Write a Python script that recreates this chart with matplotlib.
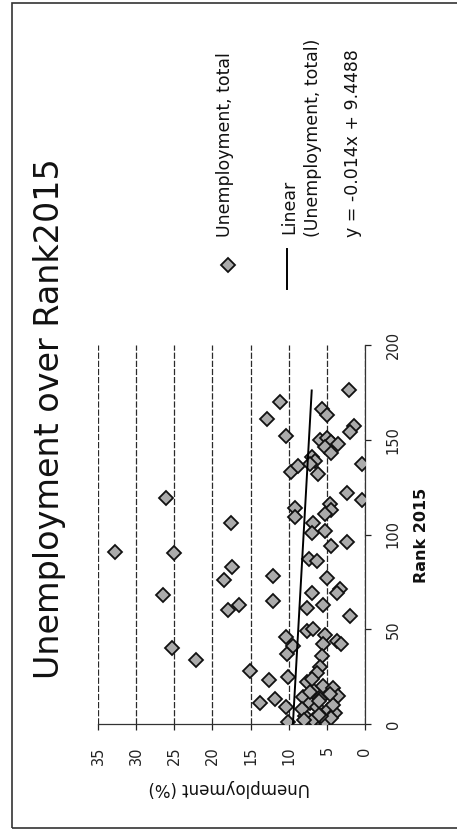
import matplotlib
matplotlib.use("Agg")
import numpy as np
import matplotlib.pyplot as plt
from matplotlib.patches import Rectangle

plt.rcParams['font.family'] = ['DejaVu Sans']

# scanned chart is turned 90 deg: unemployment runs left->right (35..0), rank runs bottom->top
rank = [91, 68, 119, 90, 40, 34, 106, 83, 76, 63, 60, 28, 23, 11, 13, 78, 65,
        161, 170, 152, 133, 136, 114, 109, 46, 37, 25, 9, 1, 41,
        166, 163, 176, 157, 154, 150, 151, 149, 148, 146, 143, 141, 139, 137, 132,
        137, 122, 118, 116, 113, 111, 106, 102, 101, 94, 96, 87, 86, 77, 71, 69,
        69, 61, 63, 57, 49, 50, 47, 44, 42, 42, 36, 30, 27, 22, 18, 20, 19, 14,
        11, 9, 7, 6, 4, 2, 1, 3, 15, 10, 13, 17, 4, 8, 2, 12, 5, 16, 24]
unemployment = [32.8, 26.5, 26.1, 25.0, 25.3, 22.2, 17.6, 17.5, 18.5, 16.5, 17.9, 15.1, 12.6, 13.7, 11.8, 12.0, 12.0,
                12.9, 11.2, 10.3, 9.7, 8.8, 9.2, 9.2, 10.4, 10.2, 10.1, 10.3, 10.1, 9.4,
                5.6, 5.0, 2.1, 1.4, 2.0, 5.9, 5.0, 4.4, 3.5, 5.3, 4.4, 7.0, 6.6, 7.2, 6.1,
                0.4, 2.4, 0.4, 4.6, 4.4, 5.3, 6.8, 5.3, 7.0, 4.4, 2.4, 7.4, 6.3, 5.0, 3.3, 3.7,
                7.0, 7.6, 5.5, 2.0, 7.6, 6.8, 5.3, 3.7, 5.5, 3.1, 5.7, 5.9, 6.3, 7.6, 6.8, 5.5, 4.2, 8.1,
                7.2, 6.3, 5.0, 3.9, 7.9, 6.8, 5.3, 4.5, 3.6, 4.2, 5.9, 7.2, 5.8, 8.3, 8.0, 6.0, 6.0, 4.6, 7.0]

# excel linear trendline
slope = -0.014
intercept = 9.4488

u_ticks = [0, 5, 10, 15, 20, 25, 30, 35]
rank_ticks = [0, 50, 100, 150, 200]

title = 'Unemployment over Rank2015'
x_title = 'Rank 2015'
y_title = 'Unemployment (%)'
leg_points = 'Unemployment, total'
leg_line1 = 'Linear'
leg_line2 = '(Unemployment, total)'
leg_eq = 'y = -0.014x + 9.4488'

W, H = 457, 832
fig = plt.figure(figsize=(W / 100, H / 100), dpi=100)


def fx(px):
    return px / W


def fy(py):
    return 1 - py / H


ax = fig.add_axes([fx(98), fy(724), fx(365) - fx(98), fy(345) - fy(724)])
ax.set_xlim(35, 0)
ax.set_ylim(0, 200)

ax.plot(unemployment, rank, ls='none', marker='D', ms=6.8, mfc='#ababab',
        mec='#111111', mew=1.3, zorder=3)

r_line = np.array([0, max(rank)])
ax.plot(intercept + slope * r_line, r_line, color='black', lw=1.4, zorder=4)

ax.set_xticks(u_ticks)
ax.set_yticks(rank_ticks)
ax.grid(axis='x', color='#2a2a2a', lw=0.9, ls=(0, (5, 1.5)))
ax.set_axisbelow(True)

for s in ['top', 'left']:
    ax.spines[s].set_visible(False)
for s in ['bottom', 'right']:
    ax.spines[s].set_color('#333333')
    ax.spines[s].set_linewidth(0.9)

ax.yaxis.tick_right()
ax.tick_params(axis='x', direction='out', length=4, width=0.9, pad=12,
               labelrotation=90, labelsize=10.5, colors='#222222')
ax.tick_params(axis='y', direction='out', length=4, width=0.9, pad=11,
               labelrotation=90, labelsize=10.5, colors='#222222')
for lbl in ax.get_yticklabels():
    lbl.set_va('center')

# texts, all turned with the chart
fig.text(fx(50), fy(419), title, rotation=90, ha='center', va='center',
         fontsize=24, color='#111111')
fig.text(fx(229), fy(788), y_title, rotation=180, ha='center', va='center',
         fontsize=12, color='#111111')
fig.text(fx(422), fy(535), x_title, rotation=90, ha='center', va='center',
         fontsize=11.5, fontweight='bold', color='#111111')

# legend
fig.lines.append(plt.Line2D([fx(228)], [fy(265)], transform=fig.transFigure,
                            ls='none', marker='D', ms=6.8, mfc='#ababab',
                            mec='#111111', mew=1.3))
fig.lines.append(plt.Line2D([fx(287), fx(287)], [fy(289), fy(249)],
                            transform=fig.transFigure, color='black', lw=1.4))
fig.text(fx(225), fy(237), leg_points, rotation=90, ha='center', va='bottom',
         fontsize=12.5, color='#111111')
fig.text(fx(289), fy(234), leg_line1, rotation=90, ha='center', va='bottom',
         fontsize=12.5, color='#111111')
fig.text(fx(313), fy(237), leg_line2, rotation=90, ha='center', va='bottom',
         fontsize=12.5, color='#111111')
fig.text(fx(353), fy(237), leg_eq, rotation=90, ha='center', va='bottom',
         fontsize=12.5, color='#111111')

# chart frame
fig.patches.append(Rectangle((fx(12), fy(828)), 1.0, fy(3) - fy(828),
                             transform=fig.transFigure, fill=False,
                             ec='#333333', lw=1.2))

fig.savefig('out.png', dpi=100)
